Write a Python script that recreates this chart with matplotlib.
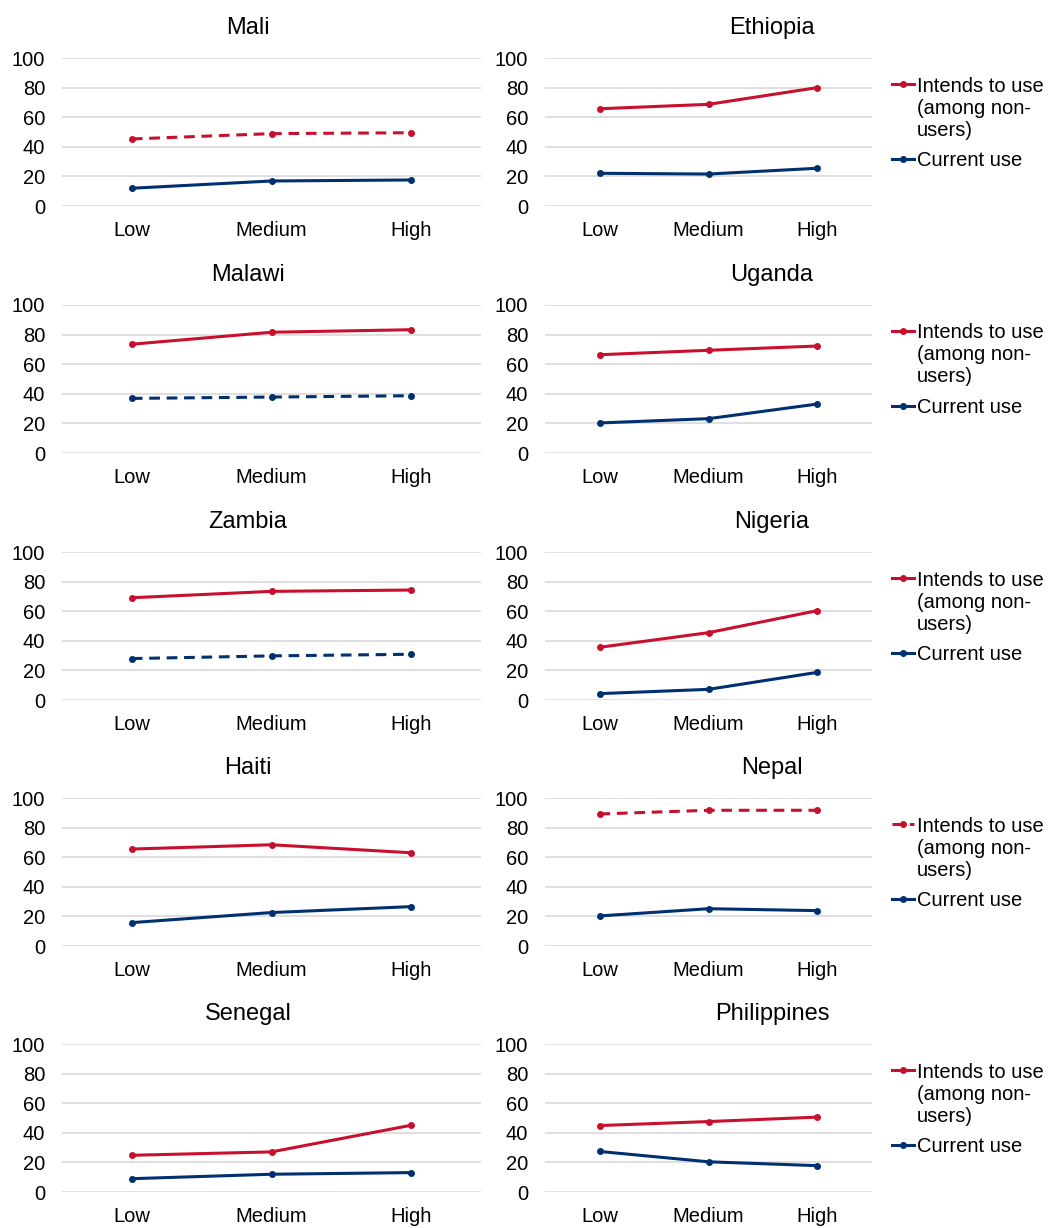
import matplotlib
matplotlib.use("Agg")
import matplotlib.pyplot as plt
from matplotlib.lines import Line2D

plt.rcParams['font.family'] = ['Liberation Sans', 'DejaVu Sans']

# -- data
levels = ['Low', 'Medium', 'High']
countries = ['Mali', 'Ethiopia', 'Malawi', 'Uganda', 'Zambia',
             'Nigeria', 'Haiti', 'Nepal', 'Senegal', 'Philippines']

intends = {
    'Mali': [45.3, 48.9, 49.5],
    'Ethiopia': [65.7, 68.7, 80.0],
    'Malawi': [73.5, 81.6, 83.3],
    'Uganda': [66.4, 69.4, 72.3],
    'Zambia': [69.1, 73.4, 74.3],
    'Nigeria': [35.6, 45.5, 60.4],
    'Haiti': [65.5, 68.4, 63.0],
    'Nepal': [89.2, 91.7, 91.7],
    'Senegal': [24.8, 27.1, 45.1],
    'Philippines': [44.9, 47.6, 50.6],
}
current = {
    'Mali': [12.0, 16.9, 17.6],
    'Ethiopia': [22.1, 21.6, 25.5],
    'Malawi': [36.9, 37.8, 38.7],
    'Uganda': [20.3, 23.2, 33.1],
    'Zambia': [28.0, 29.8, 30.9],
    'Nigeria': [4.3, 7.2, 18.7],
    'Haiti': [15.8, 22.6, 26.6],
    'Nepal': [20.3, 25.2, 23.9],
    'Senegal': [9.0, 12.0, 13.1],
    'Philippines': [27.4, 20.4, 17.8],
}
# series drawn dashed in the reference
dashed_intends = ['Mali', 'Nepal']
dashed_current = ['Malawi', 'Zambia']

label_int = ['Intends to use', '(among non-', 'users)']
label_cur = ['Current use']

RED = '#C8102E'
BLUE = '#003070'
GRID = '#D9D9D9'
DASH = (0, (3.5, 2.2))

W, H = 1048, 1228
fg = plt.figure(figsize=(W / 100, H / 100), dpi=100)

row_top = [58, 305, 552, 798, 1044]
plot_h = 148
cols = [(62, 419, 248), (545, 327, 772)]  # left px, width px, title centre px


def fx(px):
    return px / W


def fy(py):
    return 1 - py / H


for i, name in enumerate(countries):
    r, c = divmod(i, 2)
    x0, w, tx = cols[c]
    top = row_top[r]
    ax = fg.add_axes([fx(x0), fy(top + plot_h), w / W, plot_h / H])

    x = range(len(levels))
    ls_i = DASH if name in dashed_intends else '-'
    ls_c = DASH if name in dashed_current else '-'
    ax.plot(x, intends[name], color=RED, lw=2.2, ls=ls_i, marker='o', ms=4,
            clip_on=False, zorder=3)
    ax.plot(x, current[name], color=BLUE, lw=2.2, ls=ls_c, marker='o', ms=4,
            clip_on=False, zorder=3)

    ax.set_xlim(-0.5, 2.5)
    ax.set_ylim(0, 100)
    ax.set_yticks(range(0, 101, 20))
    ax.set_xticks(list(x))
    ax.set_xticklabels(levels)
    ax.grid(axis='y', color=GRID, lw=1.2)
    ax.set_axisbelow(True)
    for s in ax.spines.values():
        s.set_visible(False)
    ax.tick_params(axis='both', length=0, labelsize=14.5)
    ax.tick_params(axis='x', pad=11)
    ax.tick_params(axis='y', pad=12)

    fg.text(fx(tx), fy(top - 24), name, ha='center', va='baseline', fontsize=17)

    # -- legend, drawn by hand so the handle sits on the first text line
    if c == 1:
        entries = [(label_int, RED, ls_i, 26), (label_cur, BLUE, ls_c, 101)]
        for lines, col, ls, dy in entries:
            yc = top + dy
            fg.add_artist(Line2D([fx(892), fx(914)], [fy(yc), fy(yc)],
                                 transform=fg.transFigure, color=col, lw=2.2,
                                 ls=ls))
            fg.add_artist(Line2D([fx(903)], [fy(yc)], transform=fg.transFigure,
                                 color=col, marker='o', ms=4, ls='none'))
            for k, t in enumerate(lines):
                fg.text(fx(917), fy(yc + 22 * k), t, ha='left', va='center_baseline',
                        fontsize=14.5)

fg.savefig('out.png', dpi=100)
